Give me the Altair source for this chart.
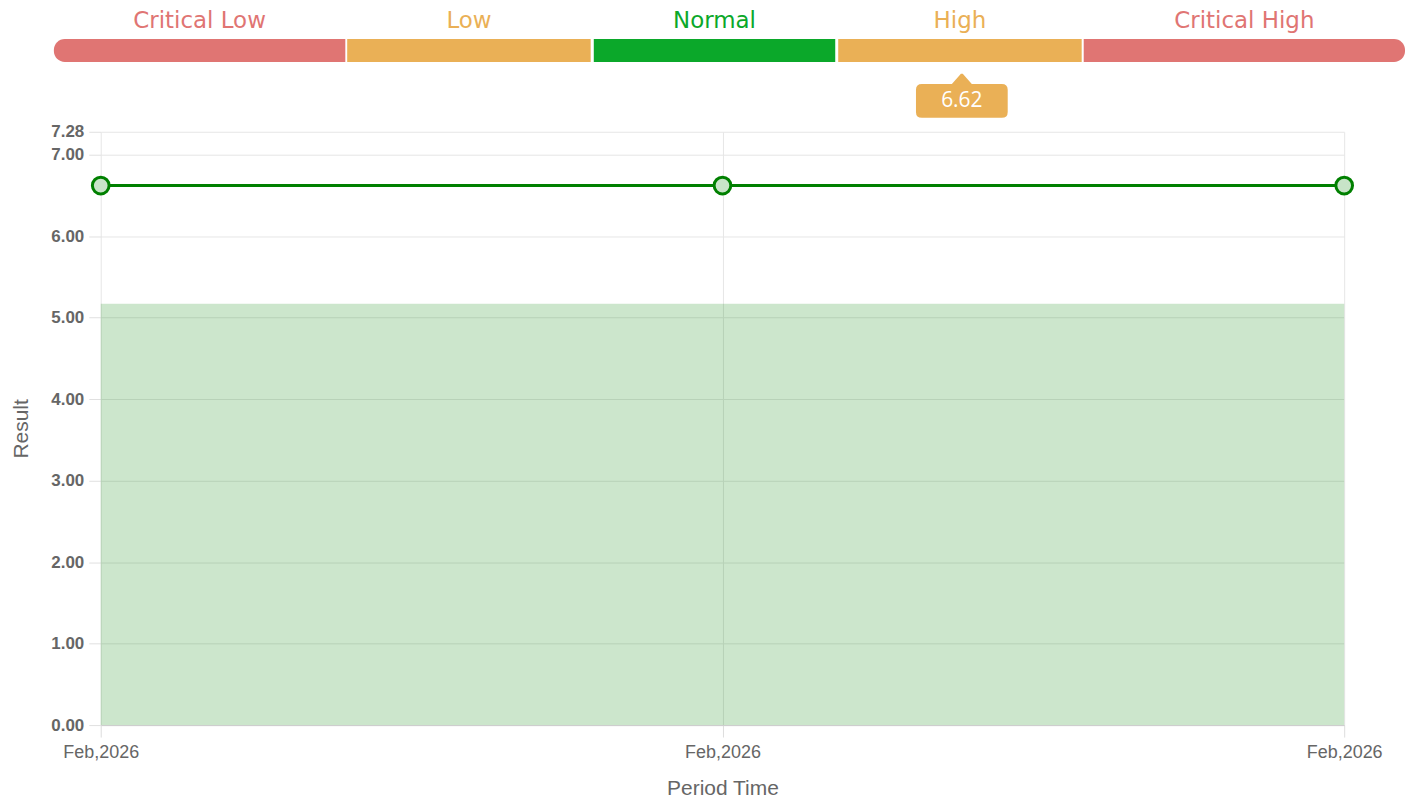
import json
import altair as alt
import pandas as pd

# ---- data ----
periods = ["Feb,2026", "Feb,2026", "Feb,2026"]
results = [6.62, 6.62, 6.62]
y_ticks = [0, 1, 2, 3, 4, 5, 6, 7, 7.28]
y_max = 7.28
normal_low = 0.0
normal_high = 5.17

range_labels = ["Critical Low", "Low", "Normal", "High", "Critical High"]
range_starts = [0.0, 21.71, 39.96, 58.05, 76.22]
range_ends = [21.57, 39.73, 57.83, 76.07, 100.0]
range_colors = ["#E07573", "#EAB056", "#0BA82A", "#EAB056", "#E07573"]
marker_value = 6.62
marker_position = 67.2

GREEN = "#008000"
AXIS_FONT = "Liberation Sans"
TOP_FONT = "DejaVu Sans"
BADGE_FONT = "Open Sans"

# ---- tables ----
df = pd.DataFrame({"idx": list(range(len(periods))), "period": periods, "result": results})
band = pd.DataFrame({"x0": [0], "x1": [len(periods) - 1], "lo": [normal_low], "hi": [normal_high]})
seg = pd.DataFrame({"label": range_labels, "start": range_starts, "end": range_ends,
                    "color": range_colors, "order": list(range(len(range_labels)))})
marker = pd.DataFrame({"pos": [marker_position], "val": [f"{marker_value:.2f}"]})

label_expr = json.dumps(periods) + "[datum.value]"

x_main = alt.X("idx:Q", title="Period Time",
               scale=alt.Scale(domain=[0, len(periods) - 1], nice=False, zero=False),
               axis=alt.Axis(values=list(range(len(periods))), labelExpr=label_expr,
                             labelFlush=False, grid=True, gridColor="#e6e6e6",
                             domainColor="#cccccc", tickColor="#dddddd", tickSize=12,
                             labelPadding=7, labelColor="#666666", labelFontSize=18,
                             labelFont=AXIS_FONT, titleFont=AXIS_FONT, titleFontSize=21,
                             titleFontWeight="normal", titleColor="#666666", titlePadding=16))
y_main = alt.Y("result:Q", title="Result",
               scale=alt.Scale(domain=[0, y_max], nice=False, zero=True),
               axis=alt.Axis(values=y_ticks, format=".2f", labelOverlap=False,
                             labelFontWeight="bold", labelColor="#666666", labelFontSize=17,
                             labelFont=AXIS_FONT, labelPadding=5, tickSize=12,
                             tickColor="#e0e0e0", domain=False, gridColor="#e6e6e6",
                             titleFont=AXIS_FONT, titleFontSize=21, titleFontWeight="normal",
                             titleColor="#666666", titlePadding=19))

area = alt.Chart(band).mark_rect(color=GREEN, opacity=0.2).encode(
    x=alt.X("x0:Q"), x2="x1:Q", y=alt.Y("lo:Q"), y2="hi:Q")
base = alt.Chart(df)
line = base.mark_line(color=GREEN, strokeWidth=3).encode(x=x_main, y=y_main)
pts = base.mark_point(shape="circle", size=280, fill="#c8e4c8", stroke=GREEN,
                      strokeWidth=3, opacity=1).encode(x="idx:Q", y="result:Q")
main = alt.layer(line, area, line, pts)

# ---- range bar on top ----
xs = alt.Scale(domain=[0, 100], range=[-47, 1308], nice=False, zero=False)
segx = alt.X("start:Q", scale=xs, axis=None)
seg_base = alt.Chart(seg)
seg_mid = seg_base.transform_filter("datum.order > 0 && datum.order < 4").mark_bar().encode(
    x=segx, x2="end:Q", y=alt.value(-93), y2=alt.value(-70),
    color=alt.Color("color:N", scale=None))
seg_left = seg_base.transform_filter("datum.order == 0").mark_bar(
    cornerRadiusTopLeft=11, cornerRadiusBottomLeft=11).encode(
    x=segx, x2="end:Q", y=alt.value(-93), y2=alt.value(-70),
    color=alt.Color("color:N", scale=None))
seg_right = seg_base.transform_filter("datum.order == 4").mark_bar(
    cornerRadiusTopRight=11, cornerRadiusBottomRight=11).encode(
    x=segx, x2="end:Q", y=alt.value(-93), y2=alt.value(-70),
    color=alt.Color("color:N", scale=None))
seg_text = seg_base.transform_calculate(mid="(datum.start + datum.end) / 2").mark_text(
    font=TOP_FONT, fontSize=23, baseline="middle", align="center").encode(
    x=alt.X("mid:Q", scale=xs, axis=None), y=alt.value(-111), text="label:N",
    color=alt.Color("color:N", scale=None))

badge_path = ("M -0.87 -0.37 L -0.217 -0.37 L -0.02 -0.59 L 0.02 -0.59 L 0.217 -0.37 L 0.87 -0.37 "
              "Q 1 -0.37 1 -0.24 L 1 0.24 Q 1 0.37 0.87 0.37 L -0.87 0.37 "
              "Q -1 0.37 -1 0.24 L -1 -0.24 Q -1 -0.37 -0.87 -0.37 Z")
badge = alt.Chart(marker).mark_point(shape=badge_path, size=8464, filled=True,
                                     color="#EAB056", opacity=1, strokeWidth=0).encode(
    x=alt.X("pos:Q", scale=xs, axis=None), y=alt.value(-31))
badge_text = alt.Chart(marker).mark_text(font=BADGE_FONT, fontSize=21, color="white",
                                         baseline="middle", align="center").encode(
    x=alt.X("pos:Q", scale=xs, axis=None), y=alt.value(-31), text="val:N")
top = alt.layer(seg_mid, seg_left, seg_right, seg_text, badge, badge_text)

chart = alt.layer(main, top).resolve_scale(x="independent").properties(
    width=1247, height=595,
    padding={"left": 2, "top": 1, "right": 5, "bottom": 2},
).configure_view(stroke=None)

chart.save("out.html", embed_options={"renderer": "svg", "actions": False})
